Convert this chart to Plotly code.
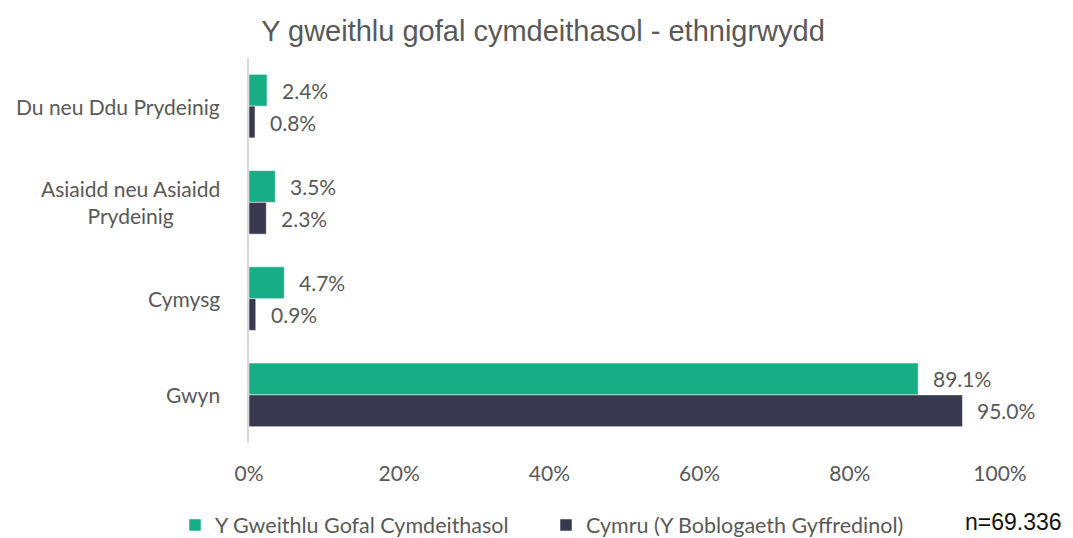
import plotly.graph_objects as go

categories = ["Du neu Ddu Prydeinig", "Asiaidd neu Asiaidd<br>Prydeinig", "Cymysg", "Gwyn"]
workforce = [2.4, 3.5, 4.7, 89.1]
wales = [0.8, 2.3, 0.9, 95.0]
series_names = ["Y Gweithlu Gofal Cymdeithasol", "Cymru (Y Boblogaeth Gyffredinol)"]
x_ticks = [0, 20, 40, 60, 80, 100]
x_tick_labels = ["0%", "20%", "40%", "60%", "80%", "100%"]
title = "Y gweithlu gofal cymdeithasol - ethnigrwydd"
note = "n=69.336"

GREEN = "#17AD85"
DARK = "#373A4E"
GREY = "#595959"
LABEL_FONT = "Lato"
FS = 21

# page body has an 8px margin; figure is sized/offset to compensate
W, H = 1065, 530
PL, PR, PT, PB = 241, 73, 50, 95
OFF = 8
plot_w = W - PL - PR
plot_h = H - PT - PB

def px_x(px):
    return (px - OFF - PL) / plot_w

def px_y(py):
    return (H - PB - (py - OFF)) / plot_h

fig = go.Figure()
for name, vals, col in [(series_names[0], workforce, GREEN), (series_names[1], wales, DARK)]:
    fig.add_trace(go.Bar(
        y=categories, x=vals, name=name, orientation="h",
        marker=dict(color=col, line=dict(color="rgba(255,255,255,0.5)", width=1)),
    ))

# data labels
for shift, vals in [(16, workforce), (-16, wales)]:
    for c, v in zip(categories, vals):
        fig.add_annotation(
            x=v, y=c, xref="x", yref="y", text=f"{v:.1f}%", showarrow=False,
            xanchor="left", xshift=13, yshift=shift,
            font=dict(family=LABEL_FONT, size=FS, color=GREY),
        )

# category labels
for c in categories:
    fig.add_annotation(
        x=0, y=c, xref="paper", yref="y", text=c, showarrow=False,
        xanchor="right", xshift=-27, align="center",
        font=dict(family=LABEL_FONT, size=FS, color=GREY),
    )

fig.add_annotation(
    x=px_x(1063), y=px_y(522), xref="paper", yref="paper", text=note,
    showarrow=False, xanchor="right", yanchor="middle", borderpad=0,
    font=dict(family="Liberation Sans", size=23, color="#111111"),
)

fig.update_layout(
    width=W, height=H,
    margin=dict(l=PL, r=PR, t=PT, b=PB),
    plot_bgcolor="white", paper_bgcolor="white",
    barmode="group", bargap=0.34, bargroupgap=0,
    title=dict(text=title, x=(543 - OFF) / W, xanchor="center", y=1 - (31 - OFF) / H, yanchor="middle",
               font=dict(family="Liberation Sans", size=29, color=GREY)),
    xaxis=dict(range=[0, 100], tickvals=x_ticks, ticktext=x_tick_labels, showgrid=False,
               zeroline=False, showline=False, ticklabelstandoff=16,
               tickfont=dict(family=LABEL_FONT, size=FS, color=GREY)),
    yaxis=dict(autorange="reversed", showticklabels=False, showgrid=False, showline=True,
               linecolor="#D9D9D9", linewidth=1.5, zeroline=False),
    legend=dict(orientation="h", xref="container", yref="container",
                x=(546 - OFF) / W, xanchor="center", y=(H - (525 - OFF)) / H, yanchor="middle",
                font=dict(family=LABEL_FONT, size=21.5, color=GREY), traceorder="normal",
                itemwidth=30, entrywidth=326),
    showlegend=True,
)

fig.write_html("out.html")
